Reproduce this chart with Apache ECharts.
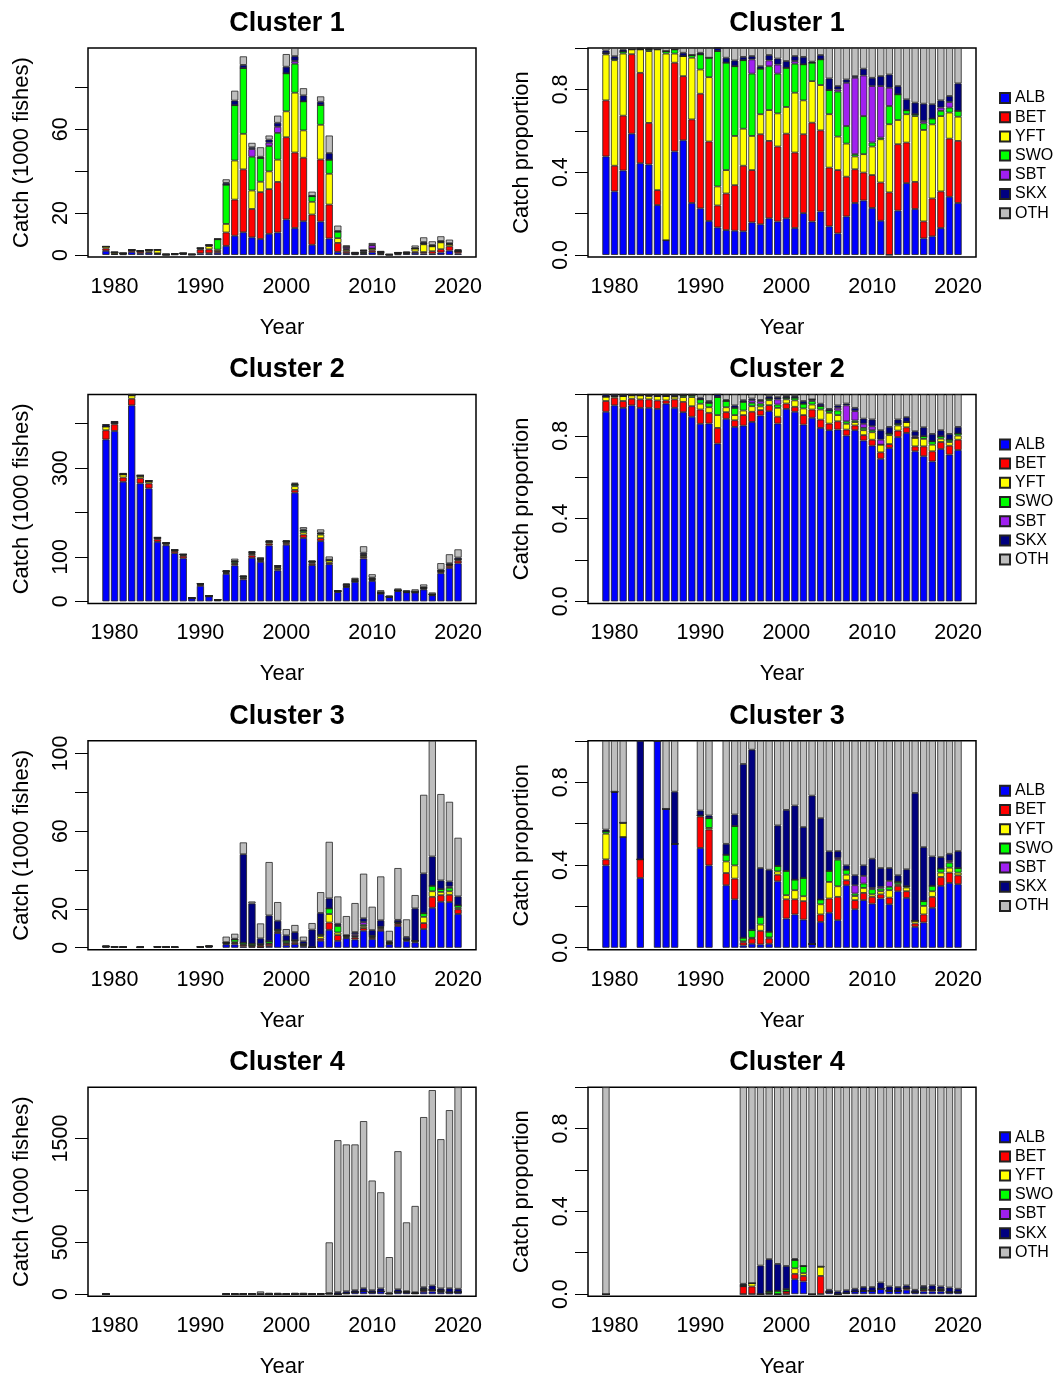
<!DOCTYPE html>
<html><head><meta charset="utf-8">
<script src="https://cdn.jsdelivr.net/npm/echarts@6/dist/echarts.min.js"></script>
<style>html,body{margin:0;padding:0;background:#fff}#c{width:1062px;height:1381px}</style>
</head><body><div id="c"></div><script>
const N = null;
const YEARS = [1979,1980,1981,1982,1983,1984,1985,1986,1987,1988,1989,1990,1991,1992,1993,1994,1995,1996,1997,1998,1999,2000,2001,2002,2003,2004,2005,2006,2007,2008,2009,2010,2011,2012,2013,2014,2015,2016,2017,2018,2019,2020];
const YEAR_LABELS = [1980,1990,2000,2010,2020];
const SPECIES = ['ALB','BET','YFT','SWO','SBT','SKX','OTH'];
const COLORS = ['#0000FF','#FF0000','#FFFF00','#00FF00','#A020F0','#000080','#BEBEBE'];
const TITLES = ['Cluster 1','Cluster 2','Cluster 3','Cluster 4'];

// Cluster 1: total catch (1000 fishes) and species shares
const C1_TOTAL = [4.1,1.3,0.8,2.4,1.9,2.4,2.5,0.3,0.5,0.8, 0.3,3.3,4.9,7.6,36.1,78.4,94.8,53.5,51.4,57.0, 66.5,95.9,98.8,79.6,30.2,75.7,57.0,14.0,4.6,1.3, 2.4,5.7,1.8,0.3,1.3,1.6,4.5,8.4,6.5,8.9, 7.3,2.7];
const C1_ALB = [.476,.307,.408,.586,.443,.437,.241,.071,.50,.554, .251,.225,.164,.133,.12,.117,.114,.157,.148,.177, .161,.177,.13,.202,.161,.21,.138,.104,.186,.251, .263,.227,.165,0,.214,.347,.222,.08,.09,.13, .281,.251];
const C1_BET = [.271,.124,.265,.384,.437,.201,.072,0,.429,.31, .404,.554,.384,.106,.177,.22,.317,.253,.435,.374, .363,.409,.365,.381,.478,.392,.284,.306,.192,.163, .135,.159,.185,.302,.321,.196,.131,.082,.183,.177, .281,.30];
const C1_YFT = [.222,.51,.30,.023,.113,.347,.68,.902,.044,.097, .298,.117,.311,.092,.113,.238,.179,.165,.097,.149, .16,.129,.289,.164,.201,.219,.258,.162,.16,.062, .089,.138,.209,.329,.117,.137,.318,.442,.358,.364, .126,.117];
const C1_SWO = [.006,.007,.01,0,0,.008,0,.012,.02,0, .013,.073,.094,.654,.519,.337,.331,.301,.22,.212, .192,.189,.14,.174,.089,.124,.117,.217,.085,.011, .184,.019,.008,.088,.124,.019,.009,.032,.028,.025, .024,.028];
const C1_SBT = [0,0,0,0,0,0,0,0,0,0, 0,0,0,0,0,0,0,.069,0,.028, .044,0,.013,0,0,0,0,.011,.209,.369, .196,.273,.249,.088,0,0,0,.011,0,.016, .027,0];
const C1_SKX = [.013,.012,.01,0,.004,.004,0,0,0,.016, 0,.008,0,.015,.024,.028,.016,.016,.012,.026, .029,.033,.024,.036,.005,.021,.056,.016,.016,.008, .033,.04,.048,.064,.04,.053,.056,.084,.069,.035, .029,.133];
const C1_OTH = [.012,.04,.007,.007,.003,.003,.007,.015,.007,.023, .034,.023,.047,0,.047,.06,.043,.039,.088,.034, .051,.063,.039,.043,.066,.034,.147,.184,.152,.136, .10,.144,.136,.128,.184,.248,.264,.269,.272,.253, .232,.171];

// Cluster 2
const C2_TOTAL = [398,405,288,466,284,272,144,132,116,106, 7.5,40.5,12.8,3.8,70,96,58,113,99,137, 81,137,267,167,92,162,101,25,40,53, 124,61,25,13,29,25,27,38,20,86, 106,117];
const C2_ALB = [.916,.947,.935,.947,.935,.935,.93,.955,.935,.914, .892,.858,.859,.762,.882,.843,.849,.867,.898,.919, .859,.93,.916,.854,.887,.838,.827,.83,.801,.827, .777,.752,.689,.741,.794,.814,.725,.701,.676,.736, .709,.731];
const C2_BET = [.052,.037,.033,.032,.041,.041,.041,.016,.041,.05, .051,.069,.052,.076,.032,.032,.051,.049,.026,.029, .033,.026,.024,.046,.04,.04,.032,.04,.029,.023, .026,.029,.031,.019,.031,.027,.024,.048,.049,.034, .043,.05];
const C2_YFT = [.021,.008,.024,.016,.019,.016,.021,.021,.013,.023, .044,.028,.027,.062,.024,.025,.022,.027,.018,.024, .043,.02,.031,.032,.024,.049,.052,.03,.028,.016, .024,.036,.037,.043,.025,.025,.041,.036,.032,.016, .018,.02];
const C2_SWO = [0,0,0,0,0,.003,0,0,.003,.008, .01,.021,.021,.087,.03,.035,.042,.016,.013,.008, .016,.008,.013,.023,.017,.016,.011,.022,.012,.008, .011,.01,0,.008,.008,0,0,.013,.016,.012, .011,.01];
const C2_SBT = [0,0,0,0,0,0,0,0,0,0, 0,0,0,0,0,0,0,.013,.013,0, .025,0,0,0,.008,0,0,.013,.077,.045, .02,.019,.024,0,0,0,.008,0,0,0, 0,0];
const C2_SKX = [.011,.008,.008,.005,.005,.005,.008,.008,.008,.005, .003,.008,.009,.013,.005,.012,.008,.008,.005,.011, .011,.008,.008,.013,0,.012,.008,.012,.009,.016, .025,.033,.046,.032,.021,.024,.024,.043,.036,.029, .028,.032];
const C2_OTH = [0,0,0,0,0,0,0,0,0,0, 0,.016,.032,0,.027,.053,.028,.02,.027,.009, .013,.008,.008,.032,.024,.045,.07,.053,.044,.065, .117,.121,.173,.157,.121,.11,.178,.159,.191,.173, .191,.157];

// Cluster 3
const C3_TOTAL = [1.2,0.5,0.5,N,0.5,N,0.5,0.5,0.5,N, N,0.7,1.2,N,5.7,7.2,54.2,23.8,12.5,44.1, 23.5,9.6,11.7,5.7,12.7,28.6,54.5,26.4,16.3,23.0, 38.1,21.1,36.7,8.7,41.0,14.6,27.1,78.7,106.5,79.1, 75.1,56.6];
const C3_ALB = [.398,.754,.535,N,.337,N,1,.671,.502,N, N,.482,.398,N,.302,.234,.011,.019,.016,.019, .321,.141,.161,.136,.018,.125,.169,.133,.302,.186, .23,.213,.238,.21,.273,.241,.101,.122,.193,.299, .313,.307];
const C3_BET = [.029,0,0,N,.09,N,0,0,0,N, N,.152,.173,N,.059,.10,.015,.026,.066,.026, .032,.093,.073,.089,0,.036,.069,.113,.024,.044, .035,.033,.02,.032,.026,.032,.016,.039,.053,.043, .05,.043];
const C3_YFT = [.124,0,.069,N,0,N,0,0,0,N, N,.005,.008,N,.056,.064,.005,.003,.03,.005, .016,.02,.044,.024,0,.049,.08,.051,.027,.02, .024,.012,.015,.036,.008,.018,.013,.041,.027,.021, .024,.013];
const C3_SWO = [.011,0,0,N,0,N,0,0,0,N, N,0,.047,N,.032,.19,.017,.037,.037,.027, .026,.117,.051,.088,0,.023,.053,.128,.024,.012, .021,.025,.013,.016,.011,.006,0,.023,.026,.019, .024,.022];
const C3_SBT = [0,0,0,N,0,N,0,0,0,N, N,0,0,N,0,0,0,0,0,0, 0,0,0,0,0,0,0,.008,0,.04, .037,.006,.008,.029,0,0,0,0,0,0, .008,0];
const C3_SKX = [.009,0,0,N,.573,N,0,0,.252,N, N,.024,.013,N,.053,.056,.84,.872,.236,.30, .196,.295,.358,.246,.717,.393,.095,.034,.021,.048, .051,.141,.091,.062,.032,.082,.618,.261,.142,.056, .035,.082];
const C3_OTH = [.429,.246,.396,N,0,N,0,.329,.246,N, N,.337,.361,N,.498,.356,.112,.043,.615,.623, .409,.334,.313,.417,.265,.374,.534,.533,.602,.65, .602,.57,.615,.615,.65,.621,.252,.514,.559,.562, .546,.533];

// Cluster 4
const C4_TOTAL = [10,N,N,N,N,N,N,N,N,N, N,N,N,N,0,0,6,6,26,13, 13,10,13,13,10,10,499,1484,1443,1443, 1668,1095,982,357,1378,692,850,1707,1967,1494, 1774,1995];
const C4_ALB = [0,N,N,N,N,N,N,N,N,N, N,N,N,N,N,N,0,0,0,0, 0,0,.072,.061,0,0,.01,0,.005,.013, .016,.016,.026,.016,.016,.021,.01,.013,.013,.013, .01,.01];
const C4_BET = [0,N,N,N,N,N,N,N,N,N, N,N,N,N,N,N,.038,.037,0,.005, 0,.013,.026,.027,0,.088,0,0,0,0, 0,0,0,0,0,.008,0,.008,.008,.005, 0,0];
const C4_YFT = [0,N,N,N,N,N,N,N,N,N, N,N,N,N,N,N,0,.016,0,0, 0,0,.027,.013,0,.045,0,0,0,0, 0,0,0,0,0,0,0,0,0,0, 0,0];
const C4_SWO = [0,N,N,N,N,N,N,N,N,N, N,N,N,N,N,N,.006,0,0,.008, .016,.011,.04,.035,0,0,0,0,0,0, 0,0,0,0,0,0,0,.008,0,.006, 0,0];
const C4_SBT = [0,N,N,N,N,N,N,N,N,N, N,N,N,N,N,N,0,0,0,0, 0,0,0,0,0,0,0,0,0,0, 0,0,0,0,0,0,0,0,0,0, 0,0];
const C4_SKX = [0,N,N,N,N,N,N,N,N,N, N,N,N,N,N,N,.006,0,.138,.156, .13,.112,.005,0,0,0,.011,.013,.014,.013, .018,.018,.03,.021,.018,.013,.011,.01,.021,.013, .022,.016];
const C4_OTH = [1,N,N,N,N,N,N,N,N,N, N,N,N,N,N,N,.95,.947,.862,.831, .854,.864,.83,.864,1,.867,.979,.987,.981,.974, .966,.966,.944,.963,.966,.958,.979,.961,.958,.963, .968,.974];

// Axis ticks / labels
const CATCH_TICKS = [[0,20,40,60,80],[0,100,200,300,400],[0,20,40,60,80,100],[0,500,1000,1500]];
const CATCH_LABELS = [[0,20,60],[0,100,300],[0,20,60,100],[0,500,1500]];
const PROP_TICKS = [0,0.2,0.4,0.6,0.8,1.0];
const PROP_LABELS = [0,0.4,0.8];

const TOTALS = [C1_TOTAL,C2_TOTAL,C3_TOTAL,C4_TOTAL];
const SHARES = [
  [C1_ALB,C1_BET,C1_YFT,C1_SWO,C1_SBT,C1_SKX,C1_OTH],
  [C2_ALB,C2_BET,C2_YFT,C2_SWO,C2_SBT,C2_SKX,C2_OTH],
  [C3_ALB,C3_BET,C3_YFT,C3_SWO,C3_SBT,C3_SKX,C3_OTH],
  [C4_ALB,C4_BET,C4_YFT,C4_SWO,C4_SBT,C4_SKX,C4_OTH]
];

const FONT = '"Liberation Sans", Arial, Helvetica, sans-serif';
const grids = [], xAxes = [], yAxes = [], series = [], titles = [], legends = [];

for (let r = 0; r < 4; r++) {
  const top = 48 + 346.4 * r;
  const total = TOTALS[r], shares = SHARES[r];
  // data items are [value, year] so that the value dimension is the stacked one
  const leftVals = SPECIES.map(() => []), propVals = SPECIES.map(() => []);
  YEARS.forEach((y, i) => {
    const t = total[i];
    if (t === null) {
      SPECIES.forEach((s, k) => { leftVals[k].push(['-', y]); propVals[k].push(['-', y]); });
      return;
    }
    let sum = 0, ok = true;
    SPECIES.forEach((s, k) => { const v = shares[k][i]; if (v === null) ok = false; else sum += v; });
    SPECIES.forEach((s, k) => {
      if (!ok || sum === 0 || t === 0) {
        leftVals[k].push([0, y]); propVals[k].push(['-', y]);
      } else {
        const p = shares[k][i] / sum;
        leftVals[k].push([t * p, y]); propVals[k].push([p, y]);
      }
    });
  });
  const mx = Math.max(...total.filter(v => v !== null));
  for (let side = 0; side < 2; side++) {
    const gi = grids.length;
    const left = side === 0 ? 88 : 588;
    grids.push({left: left, top: top, width: 388, height: 209, show: true, borderColor: '#000', borderWidth: 1.5, backgroundColor: 'transparent'});
    xAxes.push({
      gridIndex: gi, type: 'value', min: 1976.91, max: 2022.09,
      axisLine: {show: false}, axisTick: {show: false}, splitLine: {show: false},
      axisLabel: {customValues: YEAR_LABELS, fontSize: 21.5, color: '#000', fontFamily: FONT, margin: 19,
        formatter: v => String(v)},
      name: 'Year', nameLocation: 'middle', nameGap: 60,
      nameTextStyle: {fontSize: 22, color: '#000', fontFamily: FONT}
    });
    const isProp = side === 1;
    yAxes.push({
      gridIndex: gi, type: 'value',
      min: isProp ? -0.01 : -0.01 * mx, max: isProp ? 1 : mx,
      axisLine: {show: false}, splitLine: {show: false},
      axisTick: {show: true, length: 13, customValues: isProp ? PROP_TICKS : CATCH_TICKS[r], lineStyle: {color: '#000', width: 1}},
      axisLabel: {customValues: isProp ? PROP_LABELS : CATCH_LABELS[r], rotate: 90, fontSize: 21.5, color: '#000', fontFamily: FONT, margin: 16,
        formatter: isProp ? (v => Number(v).toFixed(1)) : (v => String(v))},
      name: isProp ? 'Catch proportion' : 'Catch (1000 fishes)',
      nameLocation: 'middle', nameRotate: 90, nameGap: 55,
      nameTextStyle: {fontSize: 22, color: '#000', fontFamily: FONT}
    });
    SPECIES.forEach((s, k) => {
      series.push({
        type: 'bar', name: s, stack: 'g' + gi, xAxisIndex: gi, yAxisIndex: gi,
        encode: {x: 1, y: 0},
        barWidth: 7.2, data: isProp ? propVals[k] : leftVals[k],
        itemStyle: {color: COLORS[k], borderColor: '#222', borderWidth: 0.8},
        emphasis: {disabled: true}
      });
    });
    titles.push({text: TITLES[r], left: left + 194, top: top - 43, textAlign: 'center',
      textStyle: {fontSize: 27, fontWeight: 'bold', color: '#000', fontFamily: FONT}});
  }
  legends.push({
    orient: 'vertical', left: 994, top: top + 37, data: SPECIES, icon: 'rect',
    itemWidth: 10, itemHeight: 10, itemGap: 3.2, selectedMode: false,
    textStyle: {fontSize: 16, lineHeight: 16, color: '#000', fontFamily: FONT}
  });
}

const chart = echarts.init(document.getElementById('c'), null, {renderer: 'canvas'});
chart.setOption({
  animation: false, backgroundColor: '#fff',
  title: titles, legend: legends, grid: grids, xAxis: xAxes, yAxis: yAxes, series: series
});
</script></body></html>
